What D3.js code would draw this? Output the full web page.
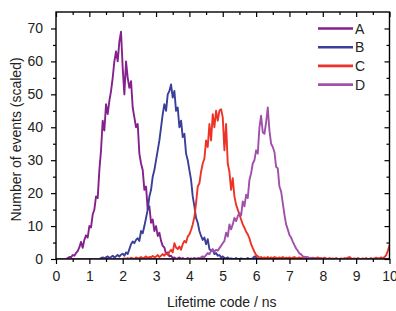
<!DOCTYPE html>
<html>
<head>
<meta charset="utf-8">
<script src="https://cdn.jsdelivr.net/npm/d3@7"></script>
<style>
  body { margin: 0; background: #fff; }
  svg { display: block; font-family: "Liberation Sans", Arial, sans-serif; }
</style>
</head>
<body>
<script>
// histogram bins, 0.05 ns wide
const binStep = 0.05;
const seriesNames = ["A", "B", "C", "D"];
const seriesColors = ["#84218c", "#3a3f98", "#ec3326", "#a050aa"];
const startTimes = [0.0, 1.0, 2.0, 4.0];

const countsA = [
  0, 0, 0, 0, 0, 0, 0, 0.3, 0.6, 0.5, 1.2, 1.0, 1.8, 2.4, 3.5, 5.2, 3.4, 5.8, 7.2, 6.5,
  10, 9.6, 13.5, 15, 19, 18.5, 27, 33, 42, 39, 47, 44, 48, 51, 55, 60, 63, 60, 66, 69,
  58, 50, 60, 55, 52, 54, 46, 43, 40, 41, 32, 29, 27, 21, 22, 15, 16, 11, 12, 8.5,
  10, 7, 8, 5.5, 4, 3.5, 1.5, 2, 0.8, 1, 0.3, 0.5, 0, 0.2, 0.5, 0, 0.3, 0, 0, 0.3,
  0, 0.2, 0, 0.3, 0, 0, 0.2, 0, 0.3, 0, 0
];
const countsB = [
  0, 0, 0, 0, 0, 0, 0, 0.3, 0.5, 0.2, 0.5, 0.8, 0.3, 0.6, 1.0, 0.5, 0.8, 1.2, 0.7, 1.3,
  1.6, 1.0, 2.0, 1.5, 3.0, 4.5, 5.3, 4.8, 5.8, 6.3, 5.5, 8.5, 7.8, 10, 12.5, 15, 19, 21, 25, 27,
  30, 33, 36, 40, 44, 47, 45, 50, 51, 53, 49, 51, 45, 46, 40, 42, 37, 38, 32, 30,
  27, 24, 19, 16, 12.5, 11, 8.5, 7, 5.8, 6.5, 4.5, 6, 3, 2.5, 2.8, 1.5, 1.8, 1.0, 1.2, 0.5,
  0.8, 0.3, 0.2, 0.5, 0, 0.2, 0, 0, 0.3, 0, 0, 0.2, 0, 0, 0, 0.3, 0, 0, 0.2, 0.8,
  0.6, 0, 0, 0.2, 0
];
const countsC = [
  0, 0.2, 0, 0.3, 0, 0.4, 0.2, 0, 0.5, 0.2, 0.3, 0.6, 0.2, 0.4, 0.8, 0.3, 0.6, 0.5, 0.9, 0.5,
  0.7, 1.2, 0.6, 1.0, 1.5, 1.0, 1.8, 1.3, 2.2, 2.8, 2.0, 4.8, 3.5, 3.0, 3.8, 2.8, 4.5, 5.5, 5.0, 6.8,
  7.5, 8.8, 10.5, 12.8, 17, 22, 23, 26.5, 29, 30.5, 36, 34, 41, 36, 44, 40, 45, 42, 45, 45.5,
  43, 33, 41, 29, 26.5, 21, 24.5, 19, 16.5, 15, 13.5, 12, 10.5, 9.5, 8.3, 7.5, 6.3, 4.5, 3.3, 2.2,
  1.2, 0.8, 0.4, 0.6, 0.2, 0.5, 0.3, 0.6, 0.2, 0.5, 0.3, 0.6, 0.4, 0.2, 0.5, 0.3, 0.6, 0.2, 0.4, 0.3,
  0.5, 0.2, 0.4, 0.6, 0.2, 0.3, 0.5, 0.2, 0.4, 0.3, 0.6, 0.2, 0.3, 0.1, 0.4, 0.2, 0.3, 0.5, 0.2, 0.3,
  0.1, 0.4, 0.2, 0, 0.3, 0.1, 0.2, 0, 0.3, 0.1, 0, 0.2, 0, 0.3, 0.1, 0.4, 0.6, 0.2, 0, 0.2,
  0, 0.3, 0.1, 0, 0.2, 0, 0.3, 0, 0.1, 0.3, 0, 0.2, 0.4, 0.1, 0.3, 0.5, 0.2, 0.6, 1.2, 2.5,
  4.2
];
const countsD = [
  0, 0, 0, 0.2, 0, 0.3, 0.2, 0.5, 0.8, 0.6, 1.2, 1.8, 1.5, 2.4, 3.0, 2.2, 2.8, 2.5, 3.3, 4.0,
  4.8, 5.5, 8.0, 6.8, 10.5, 9.0, 10.5, 12.5, 11.5, 13, 14, 13.2, 17.5, 16, 19.5, 18.5, 24, 26, 29, 30,
  33, 32, 40, 43.5, 38.5, 38, 41.5, 46, 39, 35, 34, 32.5, 28, 27.5, 22, 20.5, 17, 13.5, 10.5, 9,
  7.3, 6.5, 5.3, 4.2, 3.2, 2.5, 1.7, 1.4, 0.8, 0.7, 0.4, 0.6, 0.2, 0.4, 0, 0.3, 0, 0, 0.2, 0,
  0
];
const allCounts = [countsA, countsB, countsC, countsD];

const xTicks = [0, 1, 2, 3, 4, 5, 6, 7, 8, 9, 10];
const xMinor = [0.5, 1.5, 2.5, 3.5, 4.5, 5.5, 6.5, 7.5, 8.5, 9.5];
const yTicks = [0, 10, 20, 30, 40, 50, 60, 70];
const yMinor = [5, 15, 25, 35, 45, 55, 65];

const width = 396, height = 311;
const plotLeft = 56, plotRight = 389.5, plotTop = 12, plotBottom = 259;

const svg = d3.select("body").append("svg")
  .attr("width", width)
  .attr("height", height);

const x = d3.scaleLinear().domain([0, 10]).range([plotLeft, plotRight]);
const y = d3.scaleLinear().domain([0, 75]).range([plotBottom, plotTop]);

const line = d3.line()
  .x(d => x(d[0]))
  .y(d => y(d[1]));

svg.append("defs").append("clipPath").attr("id", "plot")
  .append("rect")
  .attr("x", plotLeft).attr("y", plotTop)
  .attr("width", plotRight - plotLeft).attr("height", plotBottom - plotTop);

const plot = svg.append("g").attr("clip-path", "url(#plot)");

allCounts.forEach((counts, s) => {
  let pts = counts.map((c, i) => [startTimes[s] + i * binStep, c]);
  // counts are zero outside the listed bins
  if (pts[0][0] > 0) pts.unshift([0, 0]);
  if (pts[pts.length - 1][0] < 10) pts.push([10, 0]);
  plot.append("path")
    .datum(pts)
    .attr("fill", "none")
    .attr("stroke", seriesColors[s])
    .attr("stroke-width", 1.9)
    .attr("stroke-linejoin", "round")
    .attr("d", line);
});

// axes
function styleAxis(g) {
  g.select(".domain").remove();
  g.selectAll("line").attr("stroke", "#000").attr("stroke-width", 1.2);
  g.selectAll("text").attr("font-size", 14).attr("fill", "#222");
}

svg.append("g").attr("transform", `translate(0,${plotBottom})`)
  .call(d3.axisBottom(x).tickValues(xTicks).tickSize(5).tickPadding(7.5).tickSizeOuter(0))
  .call(styleAxis);
svg.append("g").attr("transform", `translate(0,${plotBottom})`)
  .call(d3.axisBottom(x).tickValues(xMinor).tickSize(3).tickFormat(""))
  .call(styleAxis);
svg.append("g").attr("transform", `translate(${plotLeft},0)`)
  .call(d3.axisLeft(y).tickValues(yTicks).tickSize(5).tickPadding(8).tickSizeOuter(0))
  .call(styleAxis);
svg.append("g").attr("transform", `translate(${plotLeft},0)`)
  .call(d3.axisLeft(y).tickValues(yMinor).tickSize(3).tickFormat(""))
  .call(styleAxis);

// mirrored ticks, pointing inward
svg.append("g").attr("transform", `translate(0,${plotTop})`)
  .call(d3.axisBottom(x).tickValues(xTicks).tickSize(5).tickFormat(""))
  .call(styleAxis);
svg.append("g").attr("transform", `translate(0,${plotTop})`)
  .call(d3.axisBottom(x).tickValues(xMinor).tickSize(3).tickFormat(""))
  .call(styleAxis);
svg.append("g").attr("transform", `translate(${plotRight},0)`)
  .call(d3.axisLeft(y).tickValues(yTicks).tickSize(5).tickFormat(""))
  .call(styleAxis);
svg.append("g").attr("transform", `translate(${plotRight},0)`)
  .call(d3.axisLeft(y).tickValues(yMinor).tickSize(3).tickFormat(""))
  .call(styleAxis);

svg.append("rect")
  .attr("x", plotLeft).attr("y", plotTop)
  .attr("width", plotRight - plotLeft).attr("height", plotBottom - plotTop)
  .attr("fill", "none")
  .attr("stroke", "#000")
  .attr("stroke-width", 1.4);

// titles
svg.append("text")
  .attr("x", (plotLeft + plotRight) / 2 - 1)
  .attr("y", 307)
  .attr("text-anchor", "middle")
  .attr("font-size", 14)
  .attr("fill", "#222")
  .text("Lifetime code / ns");

svg.append("text")
  .attr("transform", `translate(21,${(plotTop + plotBottom) / 2 + 4}) rotate(-90)`)
  .attr("text-anchor", "middle")
  .attr("font-size", 14)
  .attr("fill", "#222")
  .text("Number of events (scaled)");

// legend
const legend = svg.append("g");
seriesNames.forEach((name, i) => {
  const ly = 28.5 + i * 18.7;
  legend.append("line")
    .attr("x1", 318).attr("x2", 353)
    .attr("y1", ly).attr("y2", ly)
    .attr("stroke", seriesColors[i])
    .attr("stroke-width", 2.6);
  legend.append("text")
    .attr("x", 355)
    .attr("y", ly + 5)
    .attr("font-size", 14)
    .attr("fill", "#222")
    .text(name);
});
</script>
</body>
</html>
